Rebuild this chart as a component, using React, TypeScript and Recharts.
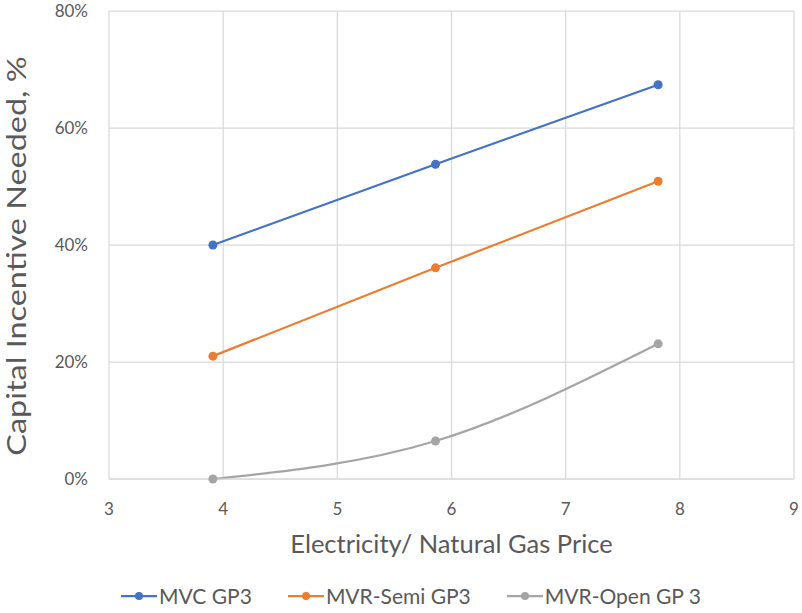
import { CartesianGrid, Line, LineChart, XAxis, YAxis } from "recharts";

// Valores (x = relação preço eletricidade / gás natural)
const precos = [3.91, 5.86, 7.81];
const mvcGp3 = [40.0, 53.8, 67.4];
const mvrSemiGp3 = [21.0, 36.1, 50.9];
const mvrOpenGp3 = [0.0, 6.5, 23.1];

const xTicks = [3, 4, 5, 6, 7, 8, 9];
const yTicks = [0, 20, 40, 60, 80];

const SERIES = [
  { key: "mvc", name: "MVC GP3", cor: "#4472C4", tipo: "linear" as const },
  { key: "semi", name: "MVR-Semi GP3", cor: "#ED7D31", tipo: "linear" as const },
  { key: "open", name: "MVR-Open GP 3", cor: "#A5A5A5", tipo: "natural" as const },
];

const data = precos.map((x, i) => ({
  x,
  mvc: mvcGp3[i],
  semi: mvrSemiGp3[i],
  open: mvrOpenGp3[i],
}));

const FONTE = "Lato, 'Open Sans', sans-serif";
const CINZA_TEXTO = "#595959";
const GRADE = "#d9d9d9";

// O título do eixo Y no original está "esticado" na vertical; o scale imita isso.
function TituloY({ viewBox }: { viewBox?: { x: number; y: number; width: number; height: number } }) {
  if (!viewBox) return null;
  const cx = viewBox.x + 16;
  const cy = viewBox.y + viewBox.height / 2 + 11;
  return (
    <text
      transform={`translate(${cx},${cy}) rotate(-90) scale(1.2,1)`}
      textAnchor="middle"
      dominantBaseline="central"
      fontSize={27}
      fill={CINZA_TEXTO}
      fontFamily={FONTE}
    >
      Capital Incentive Needed, %
    </text>
  );
}

function Legenda() {
  return (
    <div
      style={{
        position: "absolute",
        left: 0,
        top: 583,
        width: 802,
        paddingLeft: 20,
        boxSizing: "border-box",
        display: "flex",
        justifyContent: "center",
        gap: 36,
        fontFamily: FONTE,
        fontSize: 21,
        color: CINZA_TEXTO,
      }}
    >
      {SERIES.map((s) => (
        <div key={s.key} style={{ display: "flex", alignItems: "center", gap: 2 }}>
          <svg width={36} height={12}>
            <line x1={0} y1={6} x2={36} y2={6} stroke={s.cor} strokeWidth={2.25} />
            <circle cx={18} cy={6} r={4} fill={s.cor} />
          </svg>
          <span>{s.name}</span>
        </div>
      ))}
    </div>
  );
}

export default function App() {
  return (
    <div style={{ position: "absolute", left: 0, top: 0, width: 802, height: 613, background: "#fff" }}>
      <LineChart
        width={802}
        height={613}
        data={data}
        margin={{ top: 11, right: 8, bottom: 44, left: 0 }}
      >
        <CartesianGrid stroke={GRADE} strokeWidth={1.25} />
        <XAxis
          dataKey="x"
          type="number"
          domain={[3, 9]}
          ticks={xTicks}
          height={90}
          tickSize={0}
          tickMargin={24}
          axisLine={{ stroke: GRADE }}
          tickLine={false}
          tick={{ fontSize: 17, fill: CINZA_TEXTO, fontFamily: FONTE }}
          label={{
            value: "Electricity/ Natural Gas Price",
            position: "insideBottom",
            offset: 16,
            style: { fontSize: 25.5, fill: CINZA_TEXTO, fontFamily: FONTE },
          }}
        />
        <YAxis
          type="number"
          domain={[0, 80]}
          ticks={yTicks}
          width={109}
          tickSize={0}
          tickMargin={21}
          axisLine={false}
          tickLine={false}
          tickFormatter={(v: number) => `${v}%`}
          tick={{ fontSize: 17, fill: CINZA_TEXTO, fontFamily: FONTE }}
          label={{ content: (props: any) => <TituloY viewBox={props.viewBox} /> }}
        />
        {SERIES.map((s) => (
          <Line
            key={s.key}
            type={s.tipo}
            dataKey={s.key}
            name={s.name}
            stroke={s.cor}
            strokeWidth={2.25}
            dot={{ r: 4.5, fill: s.cor, stroke: s.cor, strokeWidth: 0 }}
            isAnimationActive={false}
          />
        ))}
      </LineChart>
      <Legenda />
    </div>
  );
}
